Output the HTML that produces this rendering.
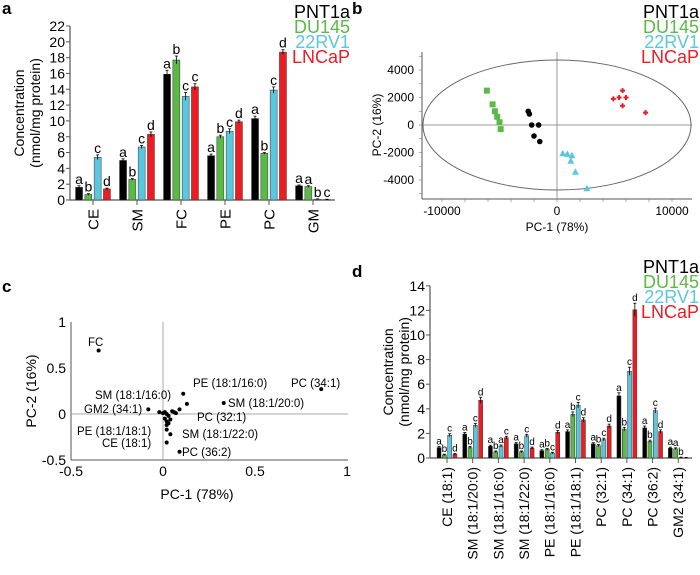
<!DOCTYPE html>
<html><head><meta charset="utf-8"><style>
body{margin:0;background:#fff}
svg{display:block;font-family:"Liberation Sans",Arial,sans-serif}
</style></head><body>
<svg id="fig" width="700" height="575" viewBox="0 0 700 575"></svg>
<script>
const colors=['#000000','#5bb947','#5bc7de','#ec1c24'];
const seriesNames=['PNT1a','DU145','22RV1','LNCaP'];
// Panel a
const catsA=['CE','SM','FC','PE','PC','GM'];
const valsA=[[1.6,0.7,5.4,1.4],[5.0,2.6,6.7,8.3],[15.9,17.7,13.1,14.3],[5.6,8.0,8.7,9.9],[10.3,5.9,13.9,18.7],[1.8,1.7,0.1,0.05]];
const errA=[[0.2,0.1,0.3,0.1],[0.2,0.1,0.2,0.3],[0.5,0.5,0.5,0.4],[0.2,0.2,0.3,0.2],[0.3,0.1,0.4,0.3],[0.1,0.1,0.05,0.05]];
const letA=[['a','b','c','d'],['a','b','c','d'],['a','b','c','c'],['a','b','c','d'],['a','b','c','d'],['a','a','b','c']];
const ticksA=[0,2,4,6,8,10,12,14,16,18,20,22];
// Panel b
const pcaB=[
 [[-2500,1000],[-2400,800],[-2200,0],[-1600,0],[-2000,-800],[-1500,-1200]],
 [[-6100,2500],[-5600,1500],[-5400,1000],[-5200,600],[-5000,200],[-4900,-300]],
 [[500,-2050],[900,-2100],[1300,-2200],[1200,-2600],[1600,-3400],[2600,-4600]],
 [[5700,2500],[5400,2000],[4900,1900],[6000,2000],[5700,1400],[7700,900]]];
const xTicksB=[-10000,0,10000];
const yTicksB=[-4000,-2000,0,2000,4000];
// Panel c
const loadNames=['FC','PE (18:1/16:0)','PC (34:1)','SM (18:1/20:0)','SM (18:1/16:0)','GM2 (34:1)','PC (32:1)','PE (18:1/18:1)','SM (18:1/22:0)','CE (18:1)','PC (36:2)'];
const loadX=[-0.35,0.11,0.86,0.33,0.09,-0.08,0.13,0.02,0.04,0.02,0.09];
const loadY=[0.69,0.22,0.27,0.12,0.05,0.05,0.11,-0.17,-0.22,-0.31,-0.41];
const clusterX=[-0.02,0,0.01,0.02,0.03,0.05,0.06,0.07,0.01,0.02,0.03,0.04,0.02];
const clusterY=[0.02,0.01,0.02,0,-0.02,0.03,0.02,0.01,-0.05,-0.08,-0.1,-0.06,-0.12];
const xTicksC=[-0.5,0,0.5,1];
const yTicksC=[-0.5,0,0.5,1];
// Panel d
const catsD=['CE (18:1)','SM (18:1/20:0)','SM (18:1/16:0)','SM (18:1/22:0)','PE (18:1/16:0)','PE (18:1/18:1)','PC (32:1)','PC (34:1)','PC (36:2)','GM2 (34:1)'];
const valsD=[[0.85,0.25,1.85,0.3],[1.95,0.85,2.65,4.7],[0.95,0.5,0.97,1.65],[1.15,0.5,1.8,0.8],[0.6,0.7,0.4,2.1],[2.15,3.55,4.3,3.1],[1.15,1.0,1.5,2.6],[5.05,2.35,7.05,12.05],[2.45,1.35,3.85,2.15],[0.8,0.75,0.02,0]];
const letD=[['a','b','c','d'],['a','b','c','d'],['a','b','a','c'],['a','b','c','d'],['a','b','c','d'],['a','b','c','d'],['a','b','c','d'],['a','b','c','d'],['a','b','c','d'],['a','a','b','']];
const ticksD=[0,2,4,6,8,10,12,14];

const S=document.getElementById('fig');const NS='http://www.w3.org/2000/svg';
function el(t,a,p){const e=document.createElementNS(NS,t);for(const k in a)e.setAttribute(k,a[k]);(p||S).appendChild(e);return e;}
function tx(x,y,s,a,p){const e=el('text',Object.assign({x:x,y:y},a),p);e.textContent=s;return e;}
function grp(name){const g=el('g',{});


return g;}

// panel letters
[['a',2,14],['b',352,14],['c',2,292],['d',352,277]].forEach(p=>{const t=tx(p[1],p[2],p[0],{'font-size':17,'font-weight':'bold'});

});

function legend(xr,y0,name){const g=grp(name);seriesNames.forEach((n,i)=>{const t=tx(xr,y0+i*15,n,{'font-size':18,'text-anchor':'end',fill:colors[i]},g);

});}
legend(350,18,'legend-a');legend(699,18,'legend-b');legend(699,273,'legend-d');

// Bar chart helper
function barChart(o){
 const g=grp(o.name);
 const y=v=>o.y0-(v-0)*o.ppu;
 el('line',{x1:o.xl,y1:o.y0,x2:o.xr,y2:o.y0,stroke:'#555','stroke-width':1.2},g);
 el('line',{x1:o.xl,y1:o.y0,x2:o.xl,y2:y(o.ticks[o.ticks.length-1]),stroke:'#555','stroke-width':1.2},g);
 o.ticks.forEach(t=>{el('line',{x1:o.xl-4,y1:y(t),x2:o.xl,y2:y(t),stroke:'#555'},g);
  const l=tx(o.xl-5,y(t)+o.fs*0.36,t,{'font-size':o.fs,'text-anchor':'end'},g);
  
  });
 const yt=tx(0,0,'Concentration',{'font-size':o.fs,'text-anchor':'middle',transform:`translate(${o.titleX},${(o.y0+y(o.ticks[o.ticks.length-1]))/2}) rotate(-90)`},g);
 
 
 const yt2=tx(0,0,'(nmol/mg protein)',{'font-size':o.fs,'text-anchor':'middle',transform:`translate(${o.titleX+o.fs+2},${(o.y0+y(o.ticks[o.ticks.length-1]))/2}) rotate(-90)`},g);
 
 
 o.cats.forEach((c,ci)=>{const cx=o.c0+ci*o.step;
  el('line',{x1:cx,y1:o.y0,x2:cx,y2:o.y0+5,stroke:'#555'},g);
  const cl=tx(0,0,c,{'font-size':o.cfs,'text-anchor':'end',transform:`translate(${cx+o.cfs*0.35},${o.y0+9}) rotate(-90)`},g);
  
  
  o.vals[ci].forEach((v,si)=>{const bx=cx+(si-1.5)*o.pitch-o.bw/2;
   const b=el('rect',{x:bx,y:y(v),width:o.bw,height:Math.max(0,o.y0-y(v)),fill:colors[si],stroke:'#333','stroke-width':0.5},g);
   
   
   const e=o.err?o.err[ci][si]:v*0.04+0.05;const mx=bx+o.bw/2;
   el('line',{x1:mx,y1:y(v+e),x2:mx,y2:y(v-e),stroke:'#000','stroke-width':0.8},g);
   el('line',{x1:mx-1.5,y1:y(v+e),x2:mx+1.5,y2:y(v+e),stroke:'#000','stroke-width':0.8},g);
   const lt=o.lets[ci][si];if(lt){const L=tx(mx,y(v+e)-2,lt,{'font-size':o.lfs,'text-anchor':'middle'},g);
    
    }
  });
 });
}
barChart({name:'chart-a',cats:catsA,vals:valsA,err:errA,lets:letA,ticks:ticksA,xl:70,xr:335,y0:200,ppu:7.91,c0:93,step:44,pitch:9.3,bw:7,fs:14,cfs:15,lfs:14,titleX:24});
barChart({name:'chart-d',cats:catsD,vals:valsD,lets:letD,ticks:ticksD,xl:430,xr:692,y0:458,ppu:12.3,c0:447,step:25.7,pitch:5.3,bw:4,fs:14,cfs:14,lfs:10,titleX:393});

// Panel b
(function(){const g=grp('chart-b');
 const X=v=>557+v/10000*115, Y=v=>125-v/2000*27.5;
 el('line',{x1:422,y1:52,x2:422,y2:199,stroke:'#555'},g);
 el('line',{x1:422,y1:199,x2:692,y2:199,stroke:'#555'},g);
 for(let v=-5000;v<=5000;v+=1000)el('line',{x1:419,y1:Y(v),x2:422,y2:Y(v),stroke:'#777','stroke-width':0.6},g);
 for(let v=-12000;v<=12000;v+=2000)if(X(v)>=422&&X(v)<=692)el('line',{x1:X(v),y1:199,x2:X(v),y2:202,stroke:'#777','stroke-width':0.6},g);
 el('line',{x1:X(0),y1:52,x2:X(0),y2:199,stroke:'#999'},g);
 el('line',{x1:422,y1:Y(0),x2:692,y2:Y(0),stroke:'#999'},g);
 const ell=el('ellipse',{cx:557,cy:125,rx:134,ry:65,fill:'none',stroke:'#666'},g);
 
 
 xTicksB.forEach(t=>tx(X(t),215,t,{'font-size':12,'text-anchor':'middle'},g));
 yTicksB.forEach(t=>tx(414,Y(t)+4,t,{'font-size':12,'text-anchor':'end'},g));
 const xt=tx(557,231,'PC-1 (78%)',{'font-size':12,'text-anchor':'middle'},g);
 
 const yt=tx(0,0,'PC-2 (16%)',{'font-size':12,'text-anchor':'middle',transform:'translate(381,125) rotate(-90)'},g);
 
 pcaB.forEach((pts,si)=>pts.forEach(p=>{const x=X(p[0]),y=Y(p[1]);let m;
  if(si===0)m=el('circle',{cx:x,cy:y,r:2.8,fill:colors[0]},g);
  else if(si===1)m=el('rect',{x:x-3,y:y-3,width:6,height:6,fill:colors[1]},g);
  else if(si===2)m=el('polygon',{points:`${x},${y-3.5} ${x-3.5},${y+3} ${x+3.5},${y+3}`,fill:colors[2]},g);
  else m=el('path',{d:`M${x-2.5} ${y}H${x+2.5}M${x} ${y-2.5}V${y+2.5}`,stroke:colors[3],'stroke-width':2},g);
  
  }));
})();

// Panel c
(function(){const g=grp('chart-c');
 const X=v=>163+v*184, Y=v=>414-v*92;
 el('line',{x1:71,y1:322,x2:71,y2:460,stroke:'#555'},g);
 el('line',{x1:71,y1:460,x2:348,y2:460,stroke:'#555'},g);
 el('line',{x1:X(0),y1:322,x2:X(0),y2:460,stroke:'#aaa'},g);
 el('line',{x1:71,y1:Y(0),x2:348,y2:Y(0),stroke:'#aaa'},g);
 xTicksC.forEach(t=>tx(X(t),476,t,{'font-size':14,'text-anchor':'middle'},g));
 yTicksC.forEach(t=>tx(66,Y(t)+5,t,{'font-size':14,'text-anchor':'end'},g));
 const xt=tx(X(0.25)-12,499,'PC-1 (78%)',{'font-size':14,'text-anchor':'middle'},g);
 
 const yt=tx(0,0,'PC-2 (16%)',{'font-size':14,'text-anchor':'middle',transform:'translate(36,391) rotate(-90)'},g);
 
 clusterX.forEach((v,i)=>el('circle',{cx:X(v),cy:Y(clusterY[i]),r:2,fill:'#000'},g));
 const lab=[[88,346,'start'],[193,387,'start'],[291,387,'start'],[228,407,'start'],[95,399,'start'],[84,413,'start'],[197,421,'start'],[77,435,'start'],[182,438,'start'],[102,447,'start'],[182,456,'start']];
 loadNames.forEach((n,i)=>{const x=X(loadX[i]),y=Y(loadY[i]);
  const c=el('circle',{cx:x,cy:y,r:2,fill:'#000'},g);
  
  const t=tx(lab[i][0],lab[i][1],n,{'font-size':11.5},g);
  });
})();
</script>
</body></html>
